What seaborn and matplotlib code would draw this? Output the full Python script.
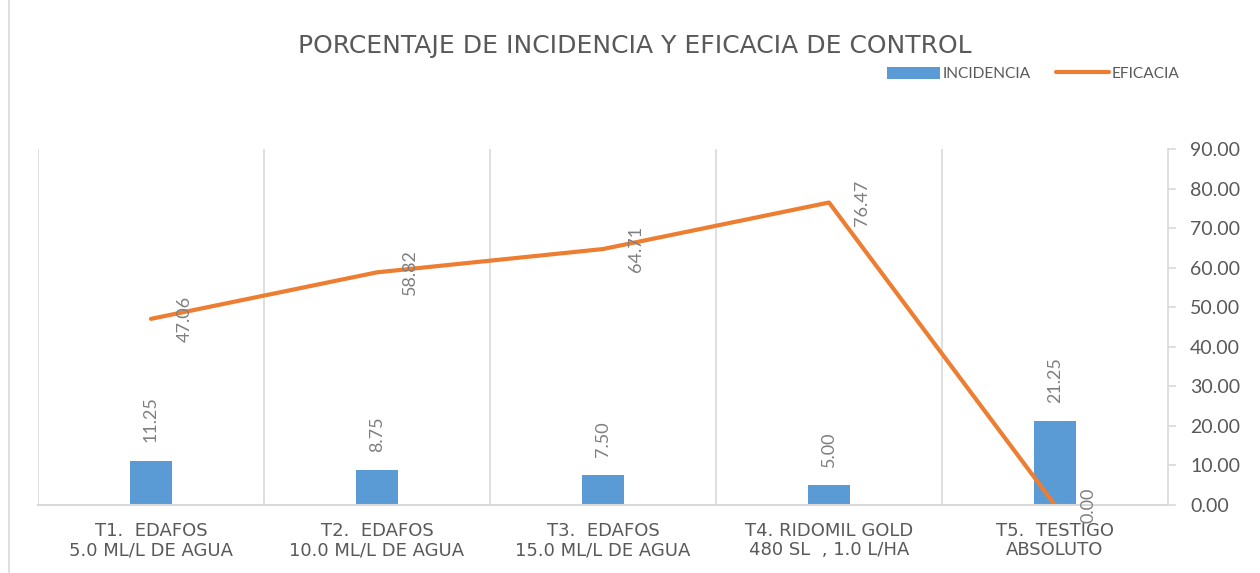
import matplotlib
matplotlib.use("Agg")
import matplotlib.pyplot as plt
import seaborn as sns
import pandas as pd
import numpy as np
from matplotlib.patches import Patch
from matplotlib.lines import Line2D

categorias = [
    "T1.  EDAFOS\n5.0 ML/L DE AGUA",
    "T2.  EDAFOS\n10.0 ML/L DE AGUA",
    "T3.  EDAFOS\n15.0 ML/L DE AGUA",
    "T4. RIDOMIL GOLD\n480 SL  , 1.0 L/HA",
    "T5.  TESTIGO\nABSOLUTO",
]
incidencia = [11.25, 8.75, 7.50, 5.00, 21.25]
eficacia = [47.06, 58.82, 64.71, 76.47, 0.00]
y_ticks = [0, 10, 20, 30, 40, 50, 60, 70, 80, 90]

titulo = "PORCENTAJE DE INCIDENCIA Y EFICACIA DE CONTROL"
serie_barras = "INCIDENCIA"
serie_linea = "EFICACIA"

BLUE = "#5B9BD5"
ORANGE = "#ED7D31"
TXT = "#595959"
LBL = "#7F7F7F"
GRID = "#D9D9D9"

sns.set_theme(style="white")
plt.rcParams["font.family"] = ["Lato", "DejaVu Sans"]
WIDE = ["DejaVu Sans"]

df = pd.DataFrame({"cat": categorias, "inc": incidencia, "efi": eficacia})

fig = plt.figure(figsize=(12.6, 5.73), dpi=100)
W, H = 1260, 573
ax = fig.add_axes([38 / W, (H - 505) / H, (1168 - 38) / W, (505 - 149) / H])

sns.barplot(data=df, x="cat", y="inc", color=BLUE, width=0.185, ax=ax,
            saturation=1, edgecolor="none")
pos = np.arange(len(categorias))
sns.lineplot(x=pos, y=df["efi"], color=ORANGE, linewidth=3.0, ax=ax,
             solid_capstyle="round")

ax.set_xlim(-0.5, len(categorias) - 0.5)
ax.set_ylim(0, 90)
ax.set_yticks(y_ticks)
ax.set_yticklabels([f"{v:.2f}" for v in y_ticks])
ax.yaxis.tick_right()
ax.set_xlabel("")
ax.set_ylabel("")

for s in ["top", "left"]:
    ax.spines[s].set_visible(False)
ax.spines["right"].set_color(GRID)
ax.spines["right"].set_linewidth(1.2)
ax.spines["bottom"].set_color(GRID)
ax.spines["bottom"].set_linewidth(1.5)

for b in np.arange(-0.5, len(categorias) - 0.5, 1.0):
    ax.axvline(b, color=GRID, lw=1.2, zorder=0)

ax.tick_params(axis="y", right=True, length=6, width=1.2, color=GRID,
               pad=10, labelsize=14, labelcolor=TXT)
ax.tick_params(axis="x", bottom=False, pad=6, labelcolor=TXT)
ax.set_xticks(pos)
ax.set_xticklabels(categorias, linespacing=1.1, family=WIDE, fontsize=13)

for i, v in enumerate(incidencia):
    ax.annotate(f"{v:.2f}", (i, v), xytext=(0, 13), textcoords="offset points",
                rotation=90, ha="center", va="bottom", fontsize=13, color=LBL)
for i, v in enumerate(eficacia):
    ax.annotate(f"{v:.2f}", (i, v), xytext=(24, 0), textcoords="offset points",
                rotation=90, ha="center", va="center", fontsize=13, color=LBL)

fig.text(635 / W, 1 - 46 / H, titulo, ha="center", va="center",
         fontsize=18, color=TXT, family=WIDE)

handles = [Patch(facecolor=BLUE, edgecolor="none", label=serie_barras),
           Line2D([0], [0], color=ORANGE, lw=3.0, label=serie_linea)]
fig.legend(handles=handles, loc="center right", bbox_to_anchor=(1194 / W, 1 - 74 / H),
           ncol=2, frameon=False, fontsize=11.2, labelcolor=TXT,
           handlelength=3.4, handleheight=0.8, handletextpad=0.2, columnspacing=1.6)

fig.add_artist(Line2D([9 / W, 9 / W], [0, 1], color=GRID, lw=1.2,
                      transform=fig.transFigure))

fig.savefig("out.png", dpi=100, facecolor="white")
